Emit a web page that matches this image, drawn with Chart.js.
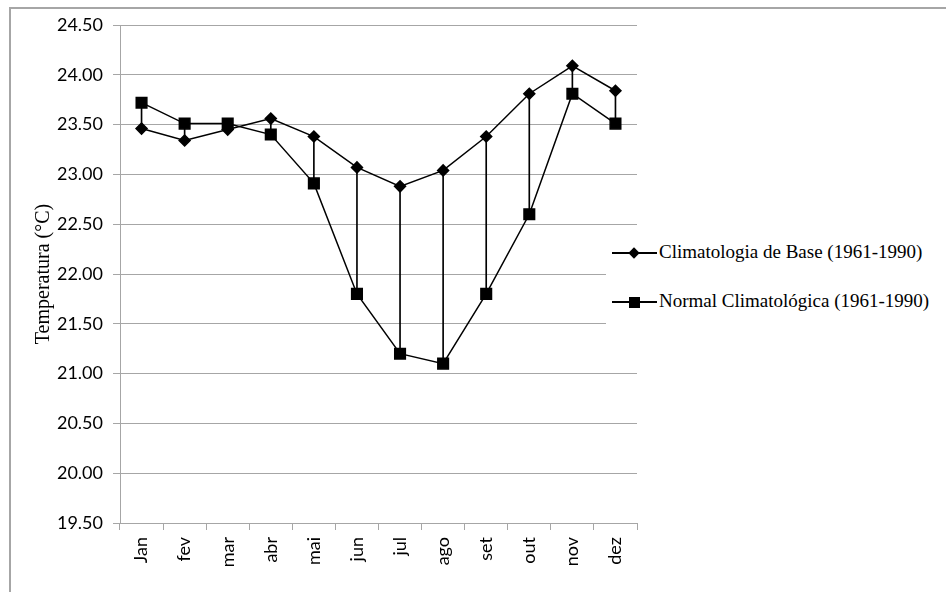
<!DOCTYPE html>
<html>
<head>
<meta charset="utf-8">
<script src="https://cdn.jsdelivr.net/npm/chart.js@4/dist/chart.umd.min.js"></script>
<style>
  html, body { margin: 0; padding: 0; background: #fff; }
  body { width: 946px; height: 592px; position: relative; overflow: hidden; }
  #frame {
    position: absolute; left: 9px; top: 7px; width: 960px; height: 600px;
    border-top: 2px solid #a6a6a6; border-left: 2px solid #a6a6a6;
  }
  #wrap { position: absolute; left: 0; top: 0; width: 946px; height: 592px; }
  #legend {
    position: absolute; left: 606px; top: 232px; width: 330px; height: 110px;
    background: #fff; font-family: "Liberation Serif", "Times New Roman", serif;
    font-size: 19px; color: #000;
  }
  .item { position: absolute; left: 6px; height: 20px; white-space: nowrap; }
  .item .line { position: absolute; left: 0; top: 9px; width: 45px; border-top: 2px solid #000; }
  .item .mk { position: absolute; background: #000; }
  .item .dia { left: 18px; top: 6px; width: 8px; height: 8px; transform: rotate(45deg); }
  .item .sq { left: 17px; top: 5px; width: 11px; height: 11px; }
  .item .txt { position: absolute; left: 47px; top: -2px; }
</style>
</head>
<body>
<div id="frame"></div>
<div id="wrap"><canvas id="tempChart" width="946" height="592"></canvas></div>
<div id="legend">
  <div class="item" style="top:11px"><span class="line"></span><span class="mk dia"></span><span class="txt">Climatologia de Base (1961-1990)</span></div>
  <div class="item" style="top:60px"><span class="line"></span><span class="mk sq"></span><span class="txt">Normal Climatológica (1961-1990)</span></div>
</div>
<script>
const months = ['Jan', 'fev', 'mar', 'abr', 'mai', 'jun', 'jul', 'ago', 'set', 'out', 'nov', 'dez'];
const baseLabel = 'Climatologia de Base (1961-1990)';
const normalLabel = 'Normal Climatológica (1961-1990)';
const baseTemps = [23.46, 23.34, 23.45, 23.56, 23.38, 23.07, 22.88, 23.04, 23.38, 23.81, 24.09, 23.84];
const normalTemps = [23.72, 23.51, 23.51, 23.40, 22.91, 21.80, 21.20, 21.10, 21.80, 22.60, 23.81, 23.51];
const yTicksMin = 19.5;
const yTicksMax = 24.5;
const yStep = 0.5;

// high-low lines between the two series
const dropLines = baseTemps.map((v, i) => [Math.min(v, normalTemps[i]), Math.max(v, normalTemps[i])]);

const gridGray = '#a6a6a6';
const tickFont = { family: 'Lato, "Open Sans", sans-serif', size: 18 };

function initChart() {
  const ctx = document.getElementById('tempChart');
  new Chart(ctx, {
    data: {
      labels: months,
      datasets: [
        {
          type: 'line',
          label: baseLabel,
          data: baseTemps,
          borderColor: '#000',
          backgroundColor: '#000',
          borderWidth: 1.5,
          pointStyle: 'rectRot',
          pointRadius: 5.5,
          pointHoverRadius: 5.5,
          tension: 0,
          order: 1
        },
        {
          type: 'line',
          label: normalLabel,
          data: normalTemps,
          borderColor: '#000',
          backgroundColor: '#000',
          borderWidth: 1.5,
          pointStyle: 'rect',
          pointRadius: 7.5,
          pointHoverRadius: 7.5,
          tension: 0,
          order: 2
        },
        {
          type: 'bar',
          label: 'drop',
          data: dropLines,
          backgroundColor: '#000',
          borderWidth: 0,
          barThickness: 1,
          order: 3
        }
      ]
    },
    options: {
      responsive: false,
      animation: false,
      layout: { padding: { left: 32, top: 25, right: 309, bottom: 0 } },
      scales: {
        x: {
          type: 'category',
          offset: true,
          grid: { offset: true, drawOnChartArea: false, drawTicks: true, tickLength: 7, color: gridGray },
          border: { color: gridGray, width: 1 },
          ticks: { color: '#000', font: tickFont, minRotation: 90, maxRotation: 90, padding: 7 },
          afterFit: (scale) => { scale.height = 69; }
        },
        y: {
          min: yTicksMin,
          max: yTicksMax,
          grid: { color: gridGray, tickLength: 7 },
          border: { color: gridGray, width: 1 },
          ticks: {
            stepSize: yStep,
            color: '#000',
            font: tickFont,
            padding: 10,
            callback: (v) => Number(v).toFixed(2)
          },
          title: {
            display: true,
            text: 'Temperatura (\u00B0C)',
            color: '#000',
            font: { family: '"Liberation Serif", "Times New Roman", serif', size: 20 },
            padding: 0
          },
          afterFit: (scale) => { scale.width = 88; }
        }
      },
      plugins: {
        legend: { display: false },
        tooltip: { enabled: false }
      }
    }
  });
}

document.addEventListener('DOMContentLoaded', initChart);
</script>
</body>
</html>
